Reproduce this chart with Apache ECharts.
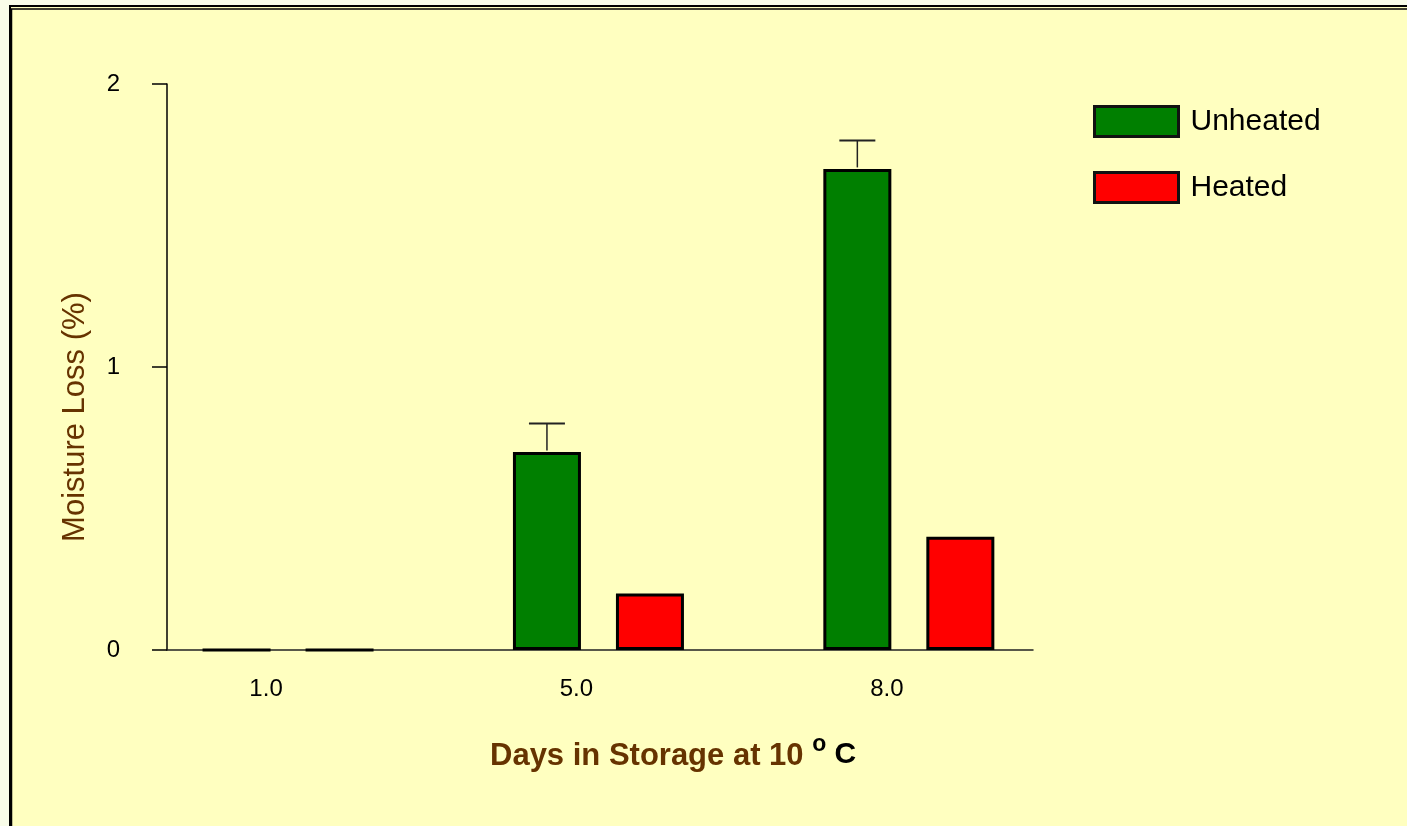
<!DOCTYPE html>
<html>
<head>
<meta charset="utf-8">
<script src="https://cdn.jsdelivr.net/npm/echarts@6/dist/echarts.min.js"></script>
<style>
html,body{margin:0;padding:0;background:#f9fde9;}
#chart{width:1407px;height:826px;}
</style>
</head>
<body>
<div id="chart"></div>
<script>
// ---- data ----
const categories = ['1.0', '5.0', '8.0'];
const unheated = [0, 0.7, 1.7];
const unheatedErr = [0, 0.1, 0.1];
const heated = [0, 0.2, 0.4];
const yTicks = [0, 1, 2];

const FONT = 'Liberation Sans, Arial, sans-serif';
const BAR_W = 68;
const BAR_GAP = 35;
const ERR_OFFSET = -(BAR_W + BAR_GAP) / 2;

const idx = categories.map((c, i) => i);
const unheatedData = idx.map(i => [i, unheated[i]]);
const heatedData = idx.map(i => [i, heated[i]]);
const errData = idx.map(i => [i, unheated[i], unheated[i] + unheatedErr[i]]);

const chart = echarts.init(document.getElementById('chart'));
chart.setOption({
  animation: false,
  backgroundColor: 'transparent',
  graphic: [
    { type: 'rect', z: -10, silent: true,
      shape: { x: 10, y: 6, width: 1440, height: 860 },
      style: { fill: '#ffffc0', stroke: '#000', lineWidth: 2 } },
    { type: 'rect', z: -9, silent: true,
      shape: { x: 11.5, y: 9, width: 1440, height: 860 },
      style: { fill: 'none', stroke: '#000', lineWidth: 1.5 } },
    { type: 'text', left: 490, top: 733, silent: true,
      style: {
        text: '{a|Days in Storage at 10 }{o|o}{c| C}',
        rich: {
          a: { fontFamily: FONT, fontWeight: 'bold', fontSize: 31, fill: '#663300' },
          o: { fontFamily: FONT, fontWeight: 'bold', fontSize: 23, fill: '#000', padding: [0, 0, 24, 0] },
          c: { fontFamily: FONT, fontWeight: 'bold', fontSize: 30, fill: '#000', padding: [0, 0, 4, 0] }
        }
      } }
  ],
  legend: {
    data: ['Unheated', 'Heated'],
    orient: 'vertical',
    left: 1088,
    top: 100,
    itemWidth: 84,
    itemHeight: 30,
    itemGap: 33,
    icon: 'rect',
    itemStyle: { borderWidth: 3, borderColor: '#111' },
    textStyle: { fontFamily: FONT, fontSize: 30, color: '#000', padding: [0, 0, 16, 7] }
  },
  grid: { left: 167, right: 374, top: 84, bottom: 176 },
  xAxis: {
    type: 'value',
    min: -0.39,
    max: 2.40,
    splitLine: { show: false },
    axisTick: { show: false },
    axisLine: { show: true, onZero: false, lineStyle: { color: '#222', width: 1.5 } },
    axisLabel: {
      customValues: idx,
      formatter: v => categories[Math.round(v)],
      fontFamily: FONT, fontSize: 24, color: '#000',
      margin: 27,
      padding: [0, 44, 0, 0]
    }
  },
  yAxis: {
    type: 'value',
    min: 0, max: 2, interval: 1,
    name: 'Moisture Loss (%)',
    nameLocation: 'middle',
    nameGap: 76,
    nameTextStyle: { fontFamily: FONT, fontSize: 31, color: '#663300', padding: [0, 100, 0, 0] },
    splitLine: { show: false },
    axisLine: { show: true, onZero: false, lineStyle: { color: '#000', width: 1.5 } },
    axisTick: { show: true, length: 15, lineStyle: { color: '#000', width: 1.5 } },
    axisLabel: {
      formatter: v => (yTicks.indexOf(v) >= 0 ? String(v) : ''),
      fontFamily: FONT, fontSize: 24, color: '#000', margin: 47,
      padding: [0, 0, 10, 0]
    }
  },
  series: [
    {
      name: 'Unheated', type: 'bar', data: unheatedData,
      barWidth: BAR_W, barGap: (BAR_GAP / BAR_W * 100) + '%',
      itemStyle: { color: '#007f00', borderColor: '#000', borderWidth: 3 }
    },
    {
      name: 'Heated', type: 'bar', data: heatedData,
      barWidth: BAR_W, barGap: (BAR_GAP / BAR_W * 100) + '%',
      itemStyle: { color: '#ff0000', borderColor: '#000', borderWidth: 3 }
    },
    {
      name: 'err', type: 'custom', data: errData,
      encode: { x: 0, y: [1, 2] },
      z: 3,
      renderItem: function (params, api) {
        const x = api.value(0), v = api.value(1), e = api.value(2);
        if (!(e > v)) return { type: 'group', children: [] };
        const b = api.coord([x, v]);
        const t = api.coord([x, e]);
        const cx = b[0] + ERR_OFFSET;
        return {
          type: 'group',
          children: [
            { type: 'line', shape: { x1: cx, y1: b[1] - 1.5, x2: cx, y2: t[1] },
              style: { stroke: '#222', lineWidth: 1.5 } },
            { type: 'line', shape: { x1: cx - 18, y1: t[1], x2: cx + 18, y2: t[1] },
              style: { stroke: '#222', lineWidth: 2 } }
          ]
        };
      }
    }
  ]
});
</script>
</body>
</html>
